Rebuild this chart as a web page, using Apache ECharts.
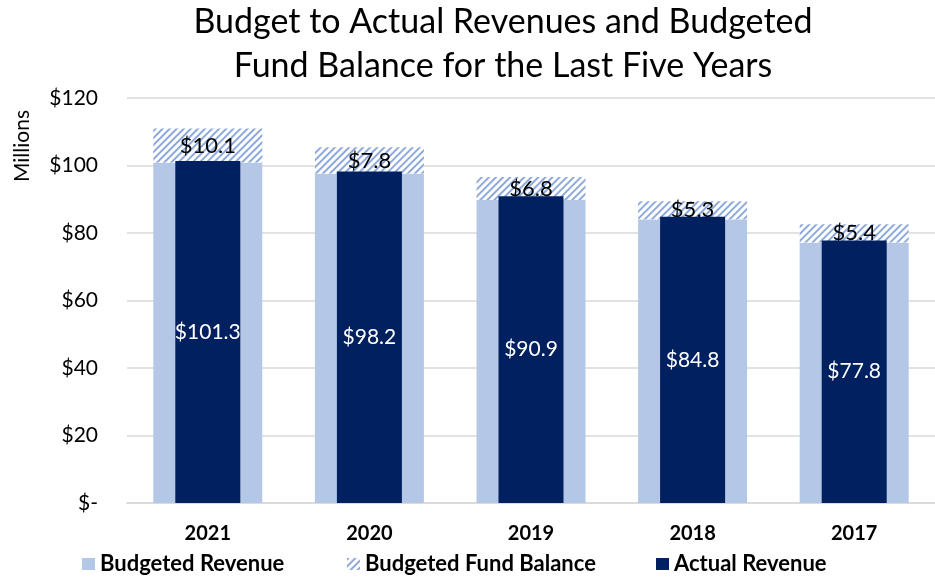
<!DOCTYPE html>
<html><head><meta charset="utf-8">
<script src="https://cdn.jsdelivr.net/npm/echarts@6/dist/echarts.min.js"></script>
<style>html,body{margin:0;padding:0;background:#fff}#c{width:935px;height:577px}</style>
</head><body><div id="c"></div>
<script>
const years = ['2021','2020','2019','2018','2017'];
const budgetedRevenue = [100.9, 97.6, 89.8, 84.1, 77.2];
const budgetedFundBalance = [10.1, 7.8, 6.8, 5.3, 5.4];
const actualRevenue = [101.3, 98.2, 90.9, 84.8, 77.8];
const yTicks = [0, 20, 40, 60, 80, 100, 120];

const FONT = 'Lato';
const chart = echarts.init(document.getElementById('c'), null, {renderer:'canvas'});
const hatch = {symbol:'rect', symbolSize:1, dashArrayX:[[1,0]], dashArrayY:[1.2,2.8], rotation:-Math.PI/4, color:'#8eaadb', backgroundColor:'#ffffff'};
chart.setOption({
  animation:false,
  textStyle:{fontFamily:FONT},
  graphic:[
    {type:'text', x:503, y:44, style:{text:'Budget to Actual Revenues and Budgeted\nFund Balance for the Last Five Years',
      align:'center', verticalAlign:'middle', fontFamily:FONT, fontSize:34, lineHeight:44, fill:'#000'}},
    {type:'text', x:22, y:146, rotation:Math.PI/2, style:{text:'Millions', align:'center', verticalAlign:'middle',
      fontFamily:FONT, fontSize:21, fill:'#000'}}
  ],
  legend:[
    {data:['Budgeted Revenue'], left:82, top:551},
    {data:['Budgeted Fund Balance'], left:347, top:551},
    {data:['Actual Revenue'], left:656, top:551}
  ].map(l => Object.assign(l, {itemWidth:13, itemHeight:12, itemGap:6, icon:'rect', padding:[2,0,2,0],
      textStyle:{fontFamily:FONT, fontSize:22, fontWeight:'bold', color:'#000'}})),
  grid:{left:127, right:-8, top:98, bottom:74},
  xAxis:[
    {type:'category', data:years, axisTick:{show:false},
      axisLine:{lineStyle:{color:'#d9d9d9', width:1.5}},
      axisLabel:{fontFamily:FONT, fontSize:20, fontWeight:'bold', color:'#000', margin:21}},
    {type:'category', data:years, show:false, position:'bottom'}
  ],
  yAxis:{type:'value', min:0, max:120, interval:20,
    axisLabel:{fontFamily:FONT, fontSize:21, color:'#000', margin:29,
      formatter:v => yTicks.indexOf(v) < 0 ? '' : (v === 0 ? '$-' : '$' + v)},
    splitLine:{lineStyle:{color:'#d9d9d9', width:1.5}}, axisLine:{show:false}, axisTick:{show:false}},
  series:[
    {name:'Budgeted Revenue', type:'bar', stack:'b', xAxisIndex:0, data:budgetedRevenue, barWidth:109,
      itemStyle:{color:'#b4c7e7'}},
    {name:'Budgeted Fund Balance', type:'bar', stack:'b', xAxisIndex:0, data:budgetedFundBalance, barWidth:109,
      itemStyle:{color:'#ffffff', decal:hatch},
      label:{show:true, position:'inside', formatter:p => '$' + p.value.toFixed(1), fontFamily:FONT, fontSize:22, color:'#000'}},
    {name:'Actual Revenue', type:'bar', xAxisIndex:1, data:actualRevenue, barWidth:65, z:5,
      itemStyle:{color:'#002060'},
      label:{show:true, position:'inside', formatter:p => '$' + p.value.toFixed(1), fontFamily:FONT, fontSize:21, color:'#fff'}}
  ]
});
</script></body></html>
